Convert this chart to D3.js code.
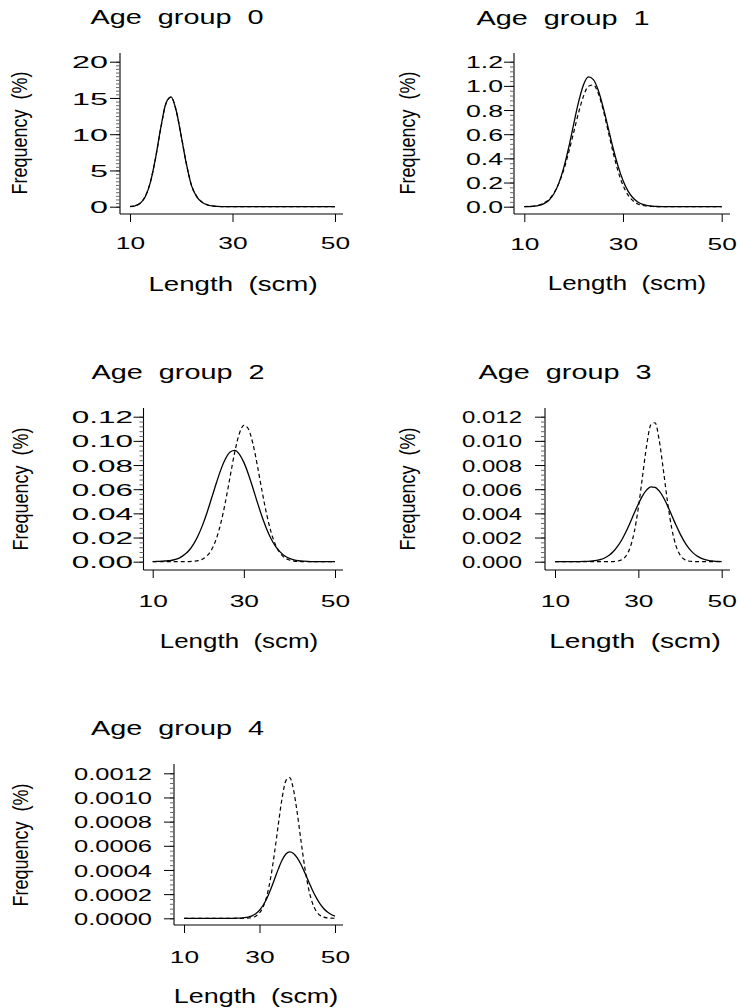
<!DOCTYPE html>
<html><head><meta charset="utf-8">
<script src="https://cdn.jsdelivr.net/npm/d3@7"></script>
<style>
body{margin:0;background:#fff;}
svg{display:block;font-family:"Liberation Sans",Arial,Helvetica,sans-serif;}
text{white-space:pre;fill:#000;}
</style></head><body>
<svg id="chart" width="740" height="1008"></svg>
<script>
// ---------------- data ----------------
const lengthGrid = [10,11,12,13,14,15,16,17,18,19,20,21,22,23,24,25,26,27,28,29,30,31,32,33,34,35,36,37,38,39,40,41,42,43,44,45,46,47,48,49,50];

const age0Solid  = [0.03,0.13,0.47,1.41,3.42,6.76,10.87,14.23,15.14,13.3,9.7,5.9,2.9,1.4,0.65,0.27,0.1,0.04,0.015,0,0,0,0,0,0,0,0,0,0,0,0,0,0,0,0,0,0,0,0,0,0];
const age0Dashed = [0.03,0.14,0.5,1.45,3.45,6.75,10.8,14.15,15.1,13.3,9.75,5.95,2.95,1.45,0.68,0.29,0.11,0.04,0.015,0,0,0,0,0,0,0,0,0,0,0,0,0,0,0,0,0,0,0,0,0,0];

const age1Solid  = [0,0.0014,0.004,0.0105,0.025,0.054,0.107,0.195,0.323,0.49,0.682,0.867,1.009,1.074,1.052,0.962,0.82,0.653,0.484,0.336,0.217,0.131,0.074,0.039,0.019,0.009,0.004,0.0015,0.0006,0.0002,0,0,0,0,0,0,0,0,0,0,0];
const age1Dashed = [0.001,0.0025,0.006,0.014,0.031,0.061,0.113,0.193,0.306,0.45,0.614,0.778,0.915,0.997,1.008,0.936,0.798,0.624,0.447,0.294,0.177,0.098,0.05,0.023,0.01,0.004,0.0015,0.0005,0,0,0,0,0,0,0,0,0,0,0,0,0];

const age2Solid  = [0.0001,0.0002,0.0004,0.0007,0.001,0.0019,0.0034,0.0059,0.0095,0.0148,0.0219,0.0309,0.0416,0.0535,0.0655,0.0766,0.0854,0.0908,0.0921,0.0891,0.0822,0.0724,0.0608,0.0487,0.0372,0.0271,0.0188,0.0125,0.0079,0.0047,0.0027,0.0015,0.0008,0.0004,0.0002,0.0001,0,0,0,0,0];
const age2Dashed = [0,0,0,0,0,0,0,0,0.0001,0.0004,0.0009,0.0023,0.0052,0.0105,0.0194,0.0327,0.0503,0.0707,0.0906,0.1059,0.1129,0.1098,0.0975,0.0789,0.0583,0.0393,0.0241,0.0135,0.0069,0.0032,0.0014,0.0005,0.0002,0.0001,0,0,0,0,0,0,0];

const age3Solid  = [0,0,0,0,0,0,0.00001,0.00002,0.00003,0.00006,0.00011,0.00019,0.00033,0.00054,0.00084,0.00126,0.0018,0.00246,0.00321,0.00401,0.00478,0.00545,0.00594,0.00619,0.00616,0.00586,0.00533,0.00463,0.00385,0.00305,0.00232,0.00168,0.00116,0.00077,0.00049,0.0003,0.00017,0.00009,0.00005,0.00002,0.00001];
const age3Dashed = [0,0,0,0,0,0,0,0,0,0,0,0,0,0,0.00001,0.00005,0.00016,0.00046,0.00114,0.00243,0.00446,0.00706,0.00963,0.01133,0.0115,0.01007,0.0076,0.00495,0.00278,0.00135,0.00056,0.0002,0.00006,0.00002,0,0,0,0,0,0,0];

const age4Solid  = [0,0,0,0,0,0,0,0,0,0,0,0,0,0,0.0000009,0.0000021,0.0000048,0.0000103,0.0000205,0.0000384,0.000067,0.00011,0.000168,0.000242,0.000325,0.000409,0.000482,0.000532,0.00055,0.000537,0.0005,0.000445,0.000377,0.000305,0.000235,0.000173,0.000121,0.0000811,0.0000518,0.0000315,0.000018];
const age4Dashed = [0,0,0,0,0,0,0,0,0,0,0,0,0,0,0,0,0.0000005,0.000002,0.0000063,0.0000175,0.0000434,0.0000966,0.000192,0.000343,0.000547,0.00078,0.000997,0.001139,0.001164,0.001065,0.000872,0.000639,0.000419,0.000246,0.000129,0.0000606,0.0000255,0.0000096,0.0000032,0.000001,0.0000003];

const panelTitles = ["Age  group  0","Age  group  1","Age  group  2","Age  group  3","Age  group  4"];
const xAxisTitle = "Length  (scm)";
const yAxisTitle = "Frequency  (%)";

const xTicks = [10,30,50];
const xTickLabels = ["10","30","50"];

const yTicks0 = [0,5,10,15,20];
const yTickLabels0 = ["0","5","10","15","20"];
const yTicks1 = [0,0.2,0.4,0.6,0.8,1.0,1.2];
const yTickLabels1 = ["0.0","0.2","0.4","0.6","0.8","1.0","1.2"];
const yTicks2 = [0,0.02,0.04,0.06,0.08,0.10,0.12];
const yTickLabels2 = ["0.00","0.02","0.04","0.06","0.08","0.10","0.12"];
const yTicks3 = [0,0.002,0.004,0.006,0.008,0.010,0.012];
const yTickLabels3 = ["0.000","0.002","0.004","0.006","0.008","0.010","0.012"];
const yTicks4 = [0,0.0002,0.0004,0.0006,0.0008,0.0010,0.0012];
const yTickLabels4 = ["0.0000","0.0002","0.0004","0.0006","0.0008","0.0010","0.0012"];

const yMinorSteps = [0.5,0.04,0.004,0.0004,0.00004];

// ---------------- layout ----------------
const layouts = [
 {plotL:120,plotR:343,plotTop:53,axisY:214,x10:130,x50:335,y0:206.7,yT:61.7,yLabR:108,ySX:1.9,xTickBase:249,titleX:177,titleBase:24,xlabX:233,xlabBase:290.5,xlabSX:1.42,ylabX:27,ylabY:133},
 {plotL:514,plotR:730,plotTop:53,axisY:214,x10:524.3,x50:721.7,y0:206.7,yT:61.7,yLabR:503,ySX:1.57,xTickBase:250,titleX:563,titleBase:25,xlabX:627,xlabBase:290,xlabSX:1.33,ylabX:415,ylabY:133},
 {plotL:143.5,plotR:343,plotTop:408,axisY:570,x10:152.7,x50:335,y0:561.7,yT:416.7,yLabR:133,ySX:1.85,xTickBase:607,titleX:178,titleBase:379,xlabX:239,xlabBase:648,xlabSX:1.33,ylabX:28,ylabY:489},
 {plotL:545,plotR:730,plotTop:408,axisY:570,x10:555,x50:721.7,y0:561.7,yT:416.7,yLabR:522,ySX:1.41,xTickBase:607,titleX:565,titleBase:379,xlabX:635,xlabBase:648,xlabSX:1.44,ylabX:415,ylabY:489},
 {plotL:174,plotR:343,plotTop:764,axisY:925,x10:184,x50:335,y0:918.3,yT:773.3,yLabR:152,ySX:1.5,xTickBase:963,titleX:177.5,titleBase:735,xlabX:256,xlabBase:1003,xlabSX:1.38,ylabX:28,ylabY:845}
];

const solidSeries = [age0Solid,age1Solid,age2Solid,age3Solid,age4Solid];
const dashedSeries = [age0Dashed,age1Dashed,age2Dashed,age3Dashed,age4Dashed];
const yTicksAll = [yTicks0,yTicks1,yTicks2,yTicks3,yTicks4];
const yLabelsAll = [yTickLabels0,yTickLabels1,yTickLabels2,yTickLabels3,yTickLabels4];

const svg = d3.select("#chart");
const tickFont = 17, titleFont = 19.5, xTickSX = 1.55;

layouts.forEach((L,i) => {
  const g = svg.append("g");
  const yt = yTicksAll[i];
  const yMax = yt[yt.length-1];
  const x = d3.scaleLinear().domain([10,50]).range([L.x10,L.x50]);
  const y = d3.scaleLinear().domain([0,yMax]).range([L.y0,L.yT]);

  // axis lines (L-shaped box)
  g.append("line").attr("x1",L.plotL).attr("x2",L.plotL).attr("y1",L.plotTop).attr("y2",L.axisY)
    .attr("stroke","#000").attr("stroke-width",1.1);
  g.append("line").attr("x1",L.plotL).attr("x2",L.plotR).attr("y1",L.axisY).attr("y2",L.axisY)
    .attr("stroke","#000").attr("stroke-width",1.1);

  // minor y ticks
  const step = yMinorSteps[i];
  const nMinor = Math.round(yMax/step);
  const minor = d3.range(0,nMinor+1).map(k => k*step);
  const mg = g.append("g").attr("transform",`translate(${L.plotL},0)`)
    .call(d3.axisLeft(y).tickValues(minor).tickSize(4).tickFormat(""));
  mg.select(".domain").remove();
  mg.selectAll("line").attr("stroke","#666");

  // major y ticks
  const ya = g.append("g").attr("transform",`translate(${L.plotL},0)`)
    .call(d3.axisLeft(y).tickValues(yt).tickFormat((d,j)=>yLabelsAll[i][j]).tickSize(10).tickSizeOuter(0));
  ya.select(".domain").remove();
  ya.attr("font-size",null).attr("font-family",null);
  ya.selectAll("line").attr("stroke","#000");
  ya.selectAll("text")
    .attr("x",(L.yLabR-L.plotL)/L.ySX).attr("dy","0.36em")
    .attr("transform",`scale(${L.ySX},1)`)
    .style("font-size",tickFont+"px");

  // x axis ticks
  const xa = g.append("g").attr("transform",`translate(0,${L.axisY})`)
    .call(d3.axisBottom(x).tickValues(xTicks).tickFormat((d,j)=>xTickLabels[j]).tickSize(8).tickSizeOuter(0));
  xa.select(".domain").remove();
  xa.attr("font-size",null).attr("font-family",null);
  xa.selectAll("line").attr("stroke","#000");
  xa.selectAll("text").attr("y",L.xTickBase-L.axisY).attr("dy",0)
    .attr("transform",`scale(${xTickSX},1)`)
    .style("font-size",tickFont+"px");

  // curves
  const line = d3.line().x((d,j)=>x(lengthGrid[j])).y(d=>y(d)).curve(d3.curveMonotoneX);
  g.append("path").datum(dashedSeries[i]).attr("d",line)
    .attr("fill","none").attr("stroke","#000").attr("stroke-width",1.2).attr("stroke-dasharray","4,3");
  g.append("path").datum(solidSeries[i]).attr("d",line)
    .attr("fill","none").attr("stroke","#000").attr("stroke-width",1.3);

  // title
  g.append("text").attr("text-anchor","middle")
    .attr("transform",`translate(${L.titleX},${L.titleBase}) scale(1.48,1)`)
    .style("font-size",titleFont+"px").text(panelTitles[i]);
  // x axis title
  g.append("text").attr("text-anchor","middle")
    .attr("transform",`translate(${L.xlabX},${L.xlabBase}) scale(${L.xlabSX},1)`)
    .style("font-size",titleFont+"px").text(xAxisTitle);
  // y axis title
  g.append("text").attr("text-anchor","middle")
    .attr("transform",`translate(${L.ylabX},${L.ylabY}) rotate(-90) scale(1,1.22)`)
    .style("font-size","18px").text(yAxisTitle);
});
</script>
</body></html>
